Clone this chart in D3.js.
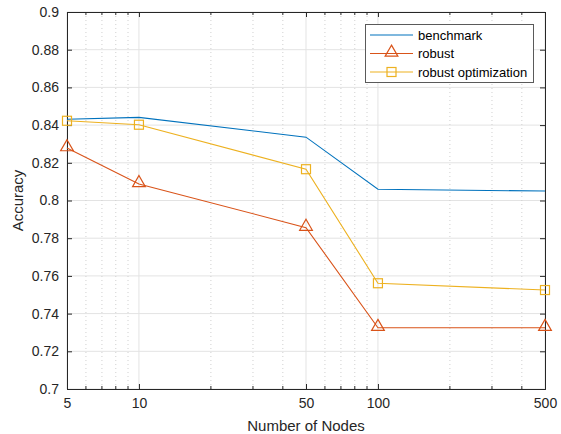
<!DOCTYPE html>
<html>
<head>
<meta charset="utf-8">
<script src="https://cdn.jsdelivr.net/npm/d3@7"></script>
<style>
  body { margin: 0; background: #fff; }
  svg { display: block; font-family: "Liberation Sans", Arial, sans-serif; }
</style>
</head>
<body>
<svg width="561" height="434"></svg>
<script>
// data
const nodes = [5, 10, 50, 100, 500];
const benchmark = [0.8431, 0.8441, 0.8336, 0.8060, 0.8050];
const robust = [0.8278, 0.8088, 0.7856, 0.7325, 0.7325];
const robustOpt = [0.8423, 0.8402, 0.8166, 0.7561, 0.7525];
const xTicks = [5, 10, 50, 100, 500];
const yTicks = [0.7, 0.72, 0.74, 0.76, 0.78, 0.8, 0.82, 0.84, 0.86, 0.88, 0.9];
const minorX = [6, 7, 8, 9, 20, 30, 40, 60, 70, 80, 90, 200, 300, 400];

var pLeft = 67, pRight = 545, pTop = 12, pBottom = 389;
var svg = d3.select("svg");

var x = d3.scaleLog().domain([5, 500]).range([pLeft, pRight]);
var y = d3.scaleLinear().domain([0.7, 0.9]).range([pBottom, pTop]);

var axisCol = "#262626";
var gridCol = "#e3e3e3";

// grid
var grid = svg.append("g");
grid.selectAll("line.gy").data(yTicks).enter().append("line")
    .attr("x1", pLeft).attr("x2", pRight)
    .attr("y1", d => y(d)).attr("y2", d => y(d))
    .attr("stroke", gridCol).attr("stroke-width", 1);
grid.selectAll("line.gx").data(xTicks).enter().append("line")
    .attr("y1", pTop).attr("y2", pBottom)
    .attr("x1", d => x(d)).attr("x2", d => x(d))
    .attr("stroke", gridCol).attr("stroke-width", 1);
grid.selectAll("line.mx").data(minorX).enter().append("line")
    .attr("y1", pTop).attr("y2", pBottom)
    .attr("x1", d => x(d)).attr("x2", d => x(d))
    .attr("stroke", "#d0d0d0").attr("stroke-width", 1)
    .attr("stroke-dasharray", "1,3");

// axes (ticks inward, box on)
var xb = d3.axisBottom(x).tickValues(xTicks).tickFormat(d3.format("d")).tickSize(-5).tickPadding(9);
var xt = d3.axisTop(x).tickValues(xTicks).tickFormat("").tickSize(-5);
var yl = d3.axisLeft(y).tickValues(yTicks).tickFormat(d => String(+d.toFixed(2))).tickSize(-5).tickPadding(8);
var yr = d3.axisRight(y).tickValues(yTicks).tickFormat("").tickSize(-5);

function style(g) {
  g.select(".domain").attr("stroke", axisCol);
  g.selectAll(".tick line").attr("stroke", axisCol);
  g.selectAll(".tick text").attr("fill", axisCol).style("font-size", "14px")
    .style("font-family", "Liberation Sans, Arial, sans-serif");
}
svg.append("g").attr("transform", "translate(0," + pBottom + ")").call(xb).call(style);
svg.append("g").attr("transform", "translate(0," + pTop + ")").call(xt).call(style);
svg.append("g").attr("transform", "translate(" + pLeft + ",0)").call(yl).call(style);
svg.append("g").attr("transform", "translate(" + pRight + ",0)").call(yr).call(style);

// minor x ticks
[pBottom, pTop].forEach(function (yy) {
  svg.append("g").selectAll("line").data(minorX).enter().append("line")
      .attr("x1", d => x(d)).attr("x2", d => x(d))
      .attr("y1", yy).attr("y2", yy === pBottom ? yy - 3 : yy + 3)
      .attr("stroke", axisCol);
});

// labels
svg.append("text").attr("x", (pLeft + pRight) / 2).attr("y", 431)
    .attr("text-anchor", "middle").attr("fill", axisCol).style("font-size", "15px")
    .text("Number of Nodes");
svg.append("text").attr("transform", "translate(23," + (pTop + pBottom) / 2 + ") rotate(-90)")
    .attr("text-anchor", "middle").attr("fill", axisCol).style("font-size", "15px")
    .text("Accuracy");

// series
var series = [
  { name: "benchmark", values: benchmark, color: "#0072BD", marker: null },
  { name: "robust", values: robust, color: "#D95319", marker: "tri" },
  { name: "robust optimization", values: robustOpt, color: "#EDB120", marker: "sq" }
];

var line = d3.line().x(d => x(d[0])).y(d => y(d[1]));
var tri = d3.symbol().type(d3.symbolTriangle).size(70);

function drawMarker(g, kind, cx, cy, color) {
  if (kind === "tri") {
    g.append("path").attr("d", tri())
      .attr("transform", "translate(" + cx + "," + (cy - 1) + ")")
      .attr("fill", "none").attr("stroke", color).attr("stroke-width", 1.2);
  } else if (kind === "sq") {
    g.append("rect").attr("x", cx - 4.5).attr("y", cy - 4.5)
      .attr("width", 9).attr("height", 9)
      .attr("fill", "none").attr("stroke", color).attr("stroke-width", 1.2);
  }
}

series.forEach(function (s) {
  var pts = nodes.map((n, i) => [n, s.values[i]]);
  svg.append("path").datum(pts).attr("d", line)
      .attr("fill", "none").attr("stroke", s.color).attr("stroke-width", 1.1);
  var g = svg.append("g");
  pts.forEach(p => drawMarker(g, s.marker, x(p[0]), y(p[1]), s.color));
});

// legend
var lg = svg.append("g");
lg.append("rect").attr("x", 365.5).attr("y", 24.5).attr("width", 168).attr("height", 58)
    .attr("fill", "#fff").attr("stroke", "#5a5a5a").attr("stroke-width", 1);
series.forEach(function (s, i) {
  var ly = 35 + i * 18.5;
  lg.append("line").attr("x1", 370).attr("x2", 413).attr("y1", ly).attr("y2", ly)
      .attr("stroke", s.color).attr("stroke-width", 1.1);
  drawMarker(lg, s.marker, 391.5, ly, s.color);
  lg.append("text").attr("x", 418).attr("y", ly + 4.5).attr("fill", "#000")
      .style("font-size", "13px").text(s.name);
});
</script>
</body>
</html>
